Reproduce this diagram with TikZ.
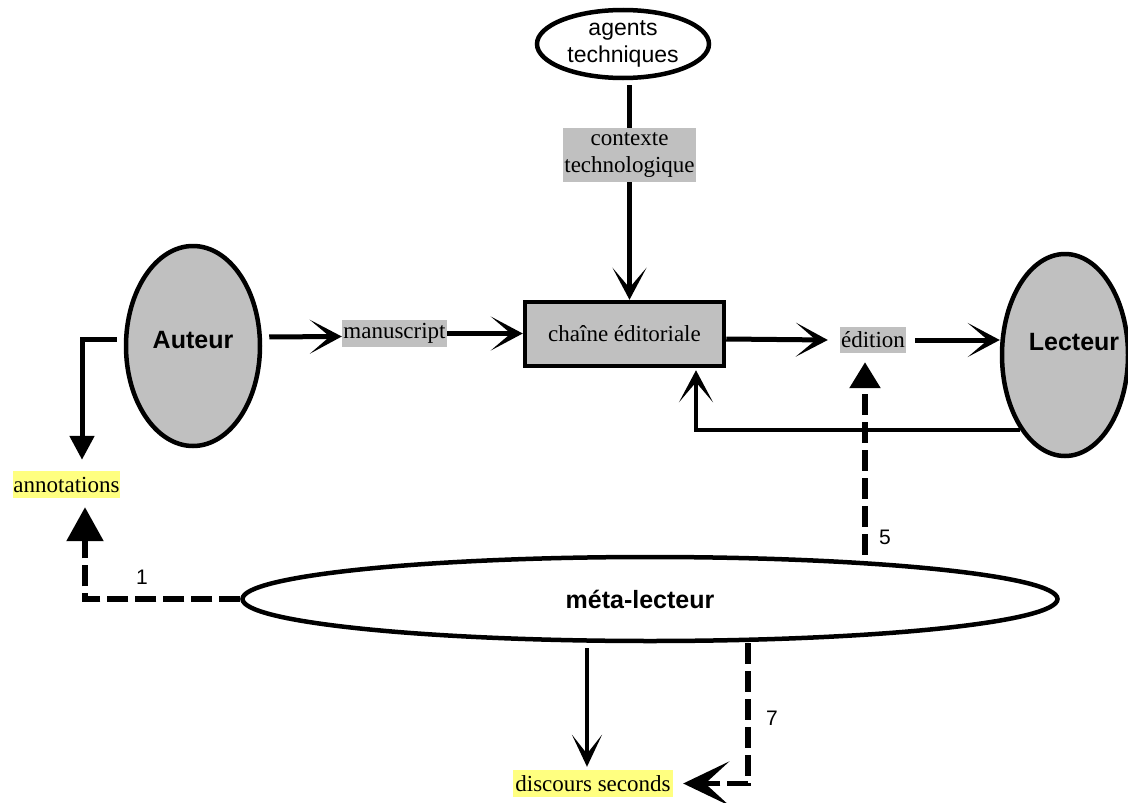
\documentclass[tikz,border=0pt]{standalone}
\usepackage{fontspec}
\setmainfont{Liberation Serif}
\setsansfont{Liberation Sans}
\usetikzlibrary{arrows.meta,shapes.geometric}
\definecolor{boxgray}{RGB}{192,192,192}
\definecolor{hlyellow}{RGB}{255,255,128}
\tikzset{
  serif/.style={font=\fontsize{23}{27}\selectfont, inner sep=0pt, align=center},
  graylbl/.style={serif, fill=boxgray},
  yellowlbl/.style={serif, fill=hlyellow},
  actor/.style={ellipse, draw, line width=4.5pt, fill=boxgray, inner sep=0pt},
  actortext/.style={font=\sffamily\bfseries\fontsize{25}{30}\selectfont},
  numlbl/.style={font=\sffamily\fontsize{21}{25}\selectfont, inner sep=0pt},
  arr/.style={line width=5pt, -{Stealth[length=32pt,width=34pt,inset=20pt]}},
  plain/.style={line width=5pt},
  tri/.style={line width=5pt, -{Triangle[length=24pt,width=24pt]}},
  dashedline/.style={line width=5.5pt, dash pattern=on 21pt off 7pt},
}
\begin{document}
\begin{tikzpicture}[x=1pt,y=-1pt]
\useasboundingbox (0,0) rectangle (1128,803);

% nodes
\node[ellipse, draw, line width=4.5pt, inner sep=0pt, minimum width=172pt, minimum height=68pt,
      font=\sffamily\fontsize{23}{27}\selectfont, align=center] (agents) at (623,44) {agents\\techniques};
\node[graylbl, minimum width=133pt, minimum height=54pt] (ctx) at (629.5,155) {contexte\\technologique};
\node[draw, line width=4.5pt, fill=boxgray, serif, minimum width=199pt, minimum height=64pt] (chaine) at (624.5,334) {chaîne éditoriale};
\node[graylbl, minimum width=105pt, minimum height=27pt] (manu) at (394.5,333.5) {manuscript};
\node[graylbl, minimum width=66pt, minimum height=26pt] (edition) at (873,340) {édition};
\node[actor, minimum width=134pt, minimum height=200pt,
      label={[actortext, yshift=6pt]center:Auteur}] (auteur) at (193,346) {};
\node[actor, minimum width=126pt, minimum height=202pt,
      label={[actortext, xshift=9pt, yshift=13pt]center:Lecteur}] (lecteur) at (1065,355) {};
\node[yellowlbl, minimum width=107pt, minimum height=27pt] (annot) at (66.5,484.5) {annotations};
\node[ellipse, draw, line width=4.5pt, inner sep=0pt, minimum width=815pt, minimum height=84pt,
      label={[actortext, xshift=-10pt, yshift=0pt]center:méta-lecteur}] (meta) at (650,599) {};
\node[yellowlbl, minimum width=160pt, minimum height=27pt] (disc) at (593,783.5) {discours seconds};

\node[numlbl] (n1) at (142,577) {1};
\node[numlbl] (n5) at (885,537) {5};
\node[numlbl] (n7) at (772,718) {7};

% connectors
\draw[plain, shorten <=5pt] (agents.south -| ctx) -- (ctx.north);
\draw[arr] (ctx.south) -- (ctx.south |- chaine.north);
\draw[arr, shorten <=7pt] ([yshift=9pt]auteur.east) -- ([yshift=-3pt]manu.west);
\draw[arr] (manu.east) -- (manu.east -| chaine.west);
\draw[arr] ([yshift=-5pt]chaine.east) -- ([xshift=-12pt]edition.west);
\draw[arr, shorten <=9pt] (edition.east) -- (edition.east -| lecteur.west);
\draw[arr, line width=4.5pt] (lecteur.239) -| ([xshift=71.5pt,yshift=-2pt]chaine.south);
\draw[tri] ([xshift=-7pt,yshift=7pt]auteur.west) -| ([xshift=15.5pt,yshift=11pt]annot.north);
\draw[line width=4.5pt, shorten <=5pt, -{Stealth[length=32pt,width=30pt,inset=19pt]}]
  ([xshift=-6pt]disc.north |- meta.south) -- ([xshift=-6pt,yshift=3pt]disc.north);

% dashed connectors
\draw[dashedline, -{Triangle[length=34pt,width=36pt]}]
  (meta.west) -| ([xshift=18.5pt,yshift=-9pt]annot.south);
\draw[dashedline, -{Triangle[length=26pt,width=30pt]}]
  ([xshift=-8pt]edition.south |- meta.north) -- ([xshift=-8pt,yshift=-9pt]edition.south);
\draw[dashedline, -{Stealth[length=46pt,width=44pt,inset=24pt]}]
  ([xshift=155pt]disc.north |- meta.south) |- ([xshift=10pt]disc.east);
\end{tikzpicture}
\end{document}
